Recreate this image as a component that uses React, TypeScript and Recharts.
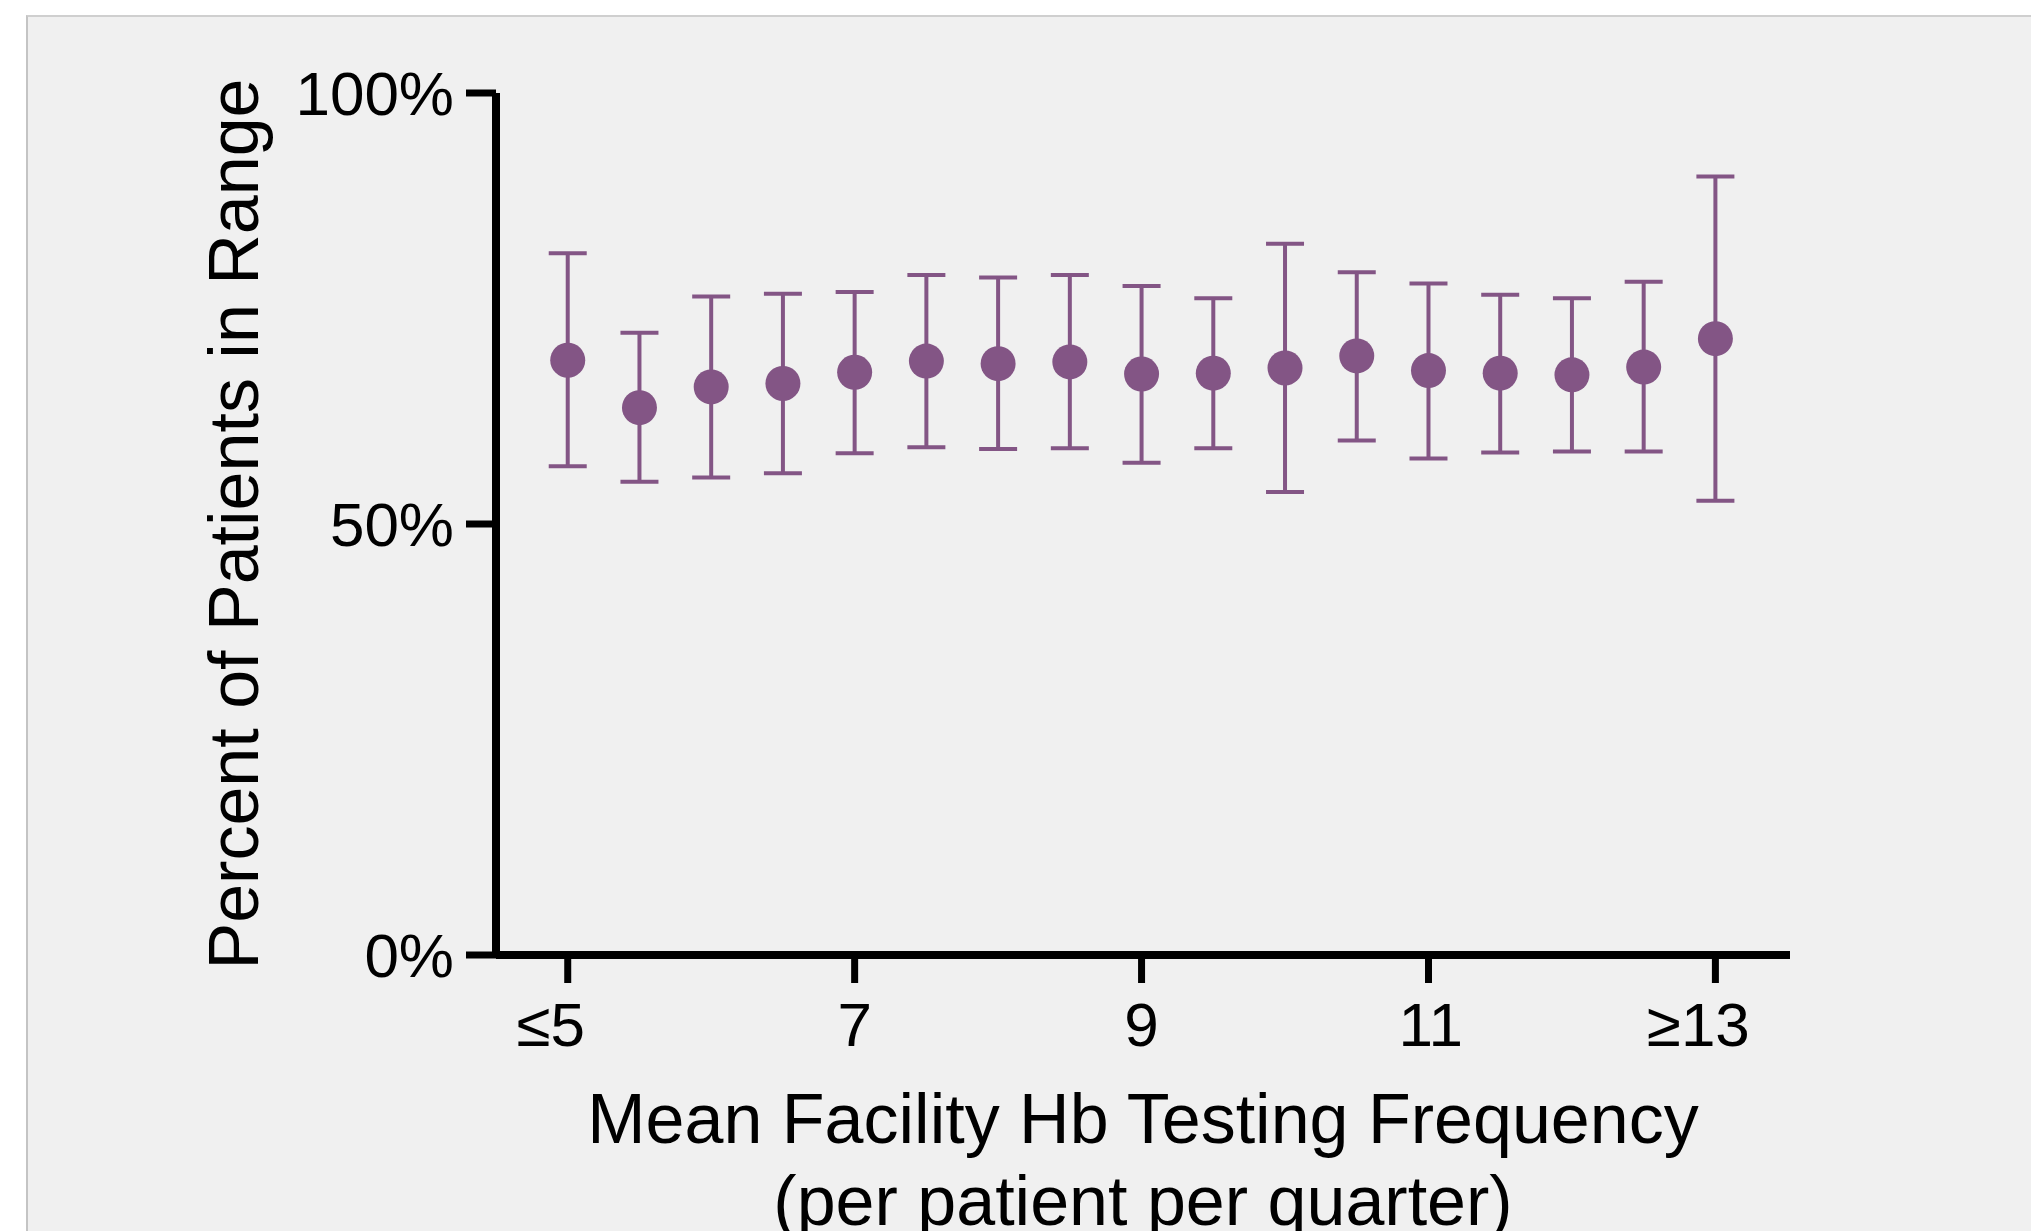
import React from "react";
import { ScatterChart, Scatter, XAxis, YAxis, ErrorBar, Label } from "recharts";

// testing frequency bins (per patient per quarter)
const freq = [5, 5.5, 6, 6.5, 7, 7.5, 8, 8.5, 9, 9.5, 10, 10.5, 11, 11.5, 12, 12.5, 13];
// percent of patients in range: mean, lower and upper limits
const meanPct = [69.0, 63.5, 65.9, 66.3, 67.6, 68.9, 68.6, 68.8, 67.4, 67.5, 68.1, 69.5, 67.8, 67.5, 67.3, 68.2, 71.5];
const lowPct = [56.7, 54.9, 55.4, 55.9, 58.2, 58.9, 58.7, 58.8, 57.1, 58.8, 53.7, 59.7, 57.6, 58.3, 58.4, 58.4, 52.7];
const highPct = [81.4, 72.2, 76.4, 76.7, 76.9, 78.9, 78.6, 78.9, 77.6, 76.2, 82.5, 79.2, 77.9, 76.6, 76.2, 78.1, 90.3];

const xTicks = [5, 7, 9, 11, 13];
const xTickPrefix = ["≤", "", "", "", "≥"];
const yTicks = [0, 50, 100];

const PURPLE = "#835585";
const FONT = "'Liberation Sans', Arial, sans-serif";

const data = freq.map((f, i) => ({
  x: f,
  y: meanPct[i],
  err: [meanPct[i] - lowPct[i], highPct[i] - meanPct[i]],
}));

const Dot = (props: any) => {
  if (props.cx == null || props.cy == null) return null;
  return <circle cx={props.cx} cy={props.cy} r={17.5} fill={PURPLE} />;
};

// number stays centred on the tick, the ≤ / ≥ sign hangs off to the left
const XTick = (props: any) => {
  const v = props.payload?.value;
  const num = String(v);
  const prefix = xTickPrefix[xTicks.indexOf(v)] ?? "";
  const half = (num.length * 0.556 * 62) / 2;
  return (
    <text x={props.x + half} y={props.y} dy="0.71em" textAnchor="end" fontFamily={FONT} fontSize={62} fill="#000">
      {prefix + num}
    </text>
  );
};

const XTitle = (props: any) => {
  const vb = props.viewBox || {};
  const cx = vb.x + vb.width / 2;
  return (
    <text textAnchor="middle" fontFamily={FONT} fontSize={70} fill="#000">
      <tspan x={cx} y={vb.y + 188}>Mean Facility Hb Testing Frequency</tspan>
      <tspan x={cx} y={vb.y + 270}>(per patient per quarter)</tspan>
    </text>
  );
};

const YTitle = (props: any) => {
  const vb = props.viewBox || {};
  const x = vb.x + 258;
  const y = vb.y + vb.height / 2;
  return (
    <text
      x={x}
      y={y}
      transform={`rotate(-90, ${x}, ${y})`}
      textAnchor="middle"
      fontFamily={FONT}
      fontSize={70}
      fill="#000"
    >
      Percent of Patients in Range
    </text>
  );
};

export default function App() {
  return (
    <div style={{ position: "absolute", left: 0, top: 0, width: 2031, height: 1231, background: "#fff", overflow: "hidden" }}>
      <div
        style={{
          position: "absolute",
          left: 26,
          top: 15,
          right: 0,
          bottom: 0,
          background: "#f0f0f0",
          borderTop: "2px solid #cfcfcf",
          borderLeft: "2px solid #c4c4c4",
        }}
      />
      <div style={{ position: "absolute", left: 0, top: 0 }}>
        <ScatterChart width={2031} height={1231} margin={{ top: 93, right: 241, bottom: 0, left: 0 }}>
          <XAxis
            type="number"
            dataKey="x"
            domain={[4.5, 13.52]}
            ticks={xTicks}
            allowDataOverflow
            height={276}
            tickSize={28}
            tickMargin={19}
            axisLine={{ stroke: "#000", strokeWidth: 8 }}
            tickLine={{ stroke: "#000", strokeWidth: 7 }}
            tick={XTick}
          >
            <Label content={XTitle} />
          </XAxis>
          <YAxis
            type="number"
            dataKey="y"
            domain={[0, 100]}
            ticks={yTicks}
            width={496}
            tickSize={30}
            tickMargin={12}
            tickFormatter={(v: number) => `${v}%`}
            axisLine={{ stroke: "#000", strokeWidth: 8 }}
            tickLine={{ stroke: "#000", strokeWidth: 7 }}
            tick={{ fill: "#000", fontSize: 62, fontFamily: FONT }}
          >
            <Label content={YTitle} />
          </YAxis>
          <Scatter data={data} fill={PURPLE} shape={Dot} isAnimationActive={false}>
            <ErrorBar dataKey="err" direction="y" width={19} strokeWidth={4} stroke={PURPLE} isAnimationActive={false} />
          </Scatter>
        </ScatterChart>
      </div>
    </div>
  );
}
